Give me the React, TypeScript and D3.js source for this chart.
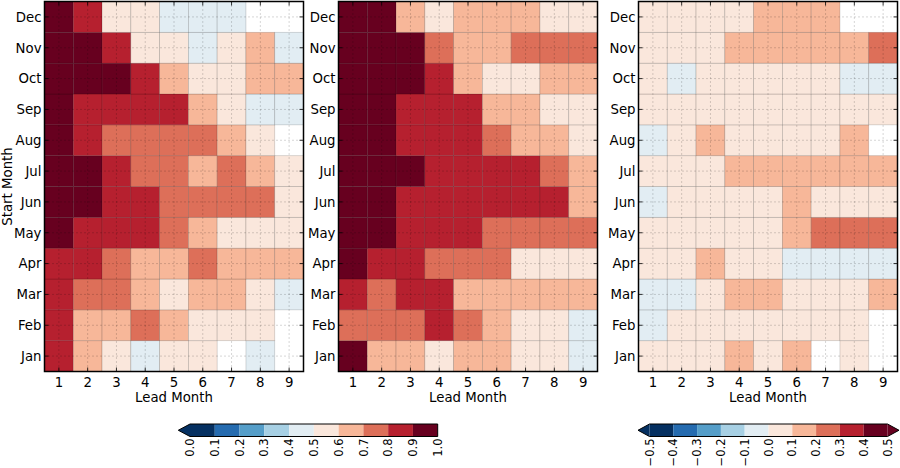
import React from "react";
import * as d3 from "d3";

const months = ["Jan", "Feb", "Mar", "Apr", "May", "Jun", "Jul", "Aug", "Sep", "Oct", "Nov", "Dec"];
const leads = [1, 2, 3, 4, 5, 6, 7, 8, 9];

// Panel 1: skill (0..1), rows Jan..Dec, columns lead 1..9 (null = masked / white)
const skillA: (number | null)[][] = [
  [0.85, 0.65, 0.55, 0.45, 0.55, 0.55, null, 0.45, null],
  [0.85, 0.65, 0.65, 0.75, 0.65, 0.55, 0.55, 0.55, null],
  [0.85, 0.75, 0.75, 0.65, 0.55, 0.65, 0.65, 0.55, 0.45],
  [0.85, 0.85, 0.75, 0.65, 0.65, 0.75, 0.65, 0.65, 0.65],
  [0.95, 0.85, 0.85, 0.85, 0.75, 0.65, 0.55, 0.55, 0.55],
  [0.95, 0.95, 0.85, 0.85, 0.75, 0.75, 0.75, 0.75, 0.55],
  [0.95, 0.95, 0.85, 0.75, 0.75, 0.65, 0.75, 0.65, 0.55],
  [0.95, 0.85, 0.75, 0.75, 0.75, 0.75, 0.65, 0.55, null],
  [0.95, 0.85, 0.85, 0.85, 0.85, 0.65, 0.55, 0.45, 0.45],
  [0.95, 0.95, 0.95, 0.85, 0.65, 0.55, 0.55, 0.65, 0.65],
  [0.95, 0.95, 0.85, 0.55, 0.55, 0.45, 0.55, 0.65, 0.45],
  [0.95, 0.85, 0.55, 0.55, 0.45, 0.45, 0.45, null, null],
];

// Panel 2: skill (0..1)
const skillB: (number | null)[][] = [
  [0.95, 0.65, 0.65, 0.55, 0.65, 0.65, 0.55, 0.55, 0.45],
  [0.75, 0.75, 0.75, 0.85, 0.75, 0.65, 0.55, 0.55, 0.45],
  [0.85, 0.75, 0.85, 0.85, 0.65, 0.65, 0.65, 0.65, 0.65],
  [0.95, 0.85, 0.85, 0.75, 0.75, 0.75, 0.55, 0.55, 0.55],
  [0.95, 0.95, 0.85, 0.85, 0.85, 0.75, 0.75, 0.75, 0.75],
  [0.95, 0.95, 0.85, 0.85, 0.85, 0.85, 0.85, 0.85, 0.65],
  [0.95, 0.95, 0.95, 0.85, 0.85, 0.85, 0.85, 0.75, 0.65],
  [0.95, 0.95, 0.85, 0.85, 0.85, 0.75, 0.65, 0.65, 0.55],
  [0.95, 0.95, 0.85, 0.85, 0.85, 0.65, 0.65, 0.55, 0.55],
  [0.95, 0.95, 0.95, 0.85, 0.65, 0.55, 0.55, 0.65, 0.65],
  [0.95, 0.95, 0.95, 0.75, 0.65, 0.65, 0.75, 0.75, 0.75],
  [0.95, 0.95, 0.65, 0.55, 0.65, 0.65, 0.65, 0.55, 0.55],
];

// Panel 3: difference (-0.5..0.5)
const skillDiff: (number | null)[][] = [
  [0.05, 0.05, 0.05, 0.15, 0.05, 0.15, null, 0.05, null],
  [-0.05, 0.05, 0.05, 0.05, 0.05, 0.05, 0.05, 0.05, null],
  [-0.05, -0.05, 0.05, 0.15, 0.15, 0.05, 0.05, 0.05, 0.15],
  [0.05, 0.05, 0.15, 0.05, 0.05, -0.05, -0.05, -0.05, -0.05],
  [0.05, 0.05, 0.05, 0.05, 0.05, 0.15, 0.25, 0.25, 0.25],
  [-0.05, 0.05, 0.05, 0.05, 0.05, 0.15, 0.05, 0.05, 0.05],
  [0.05, 0.05, 0.05, 0.15, 0.15, 0.15, 0.15, 0.15, 0.15],
  [-0.05, 0.05, 0.15, 0.05, 0.05, 0.05, 0.05, 0.15, null],
  [0.05, 0.05, 0.05, 0.05, 0.05, 0.05, 0.05, 0.05, 0.05],
  [0.05, -0.05, 0.05, 0.05, 0.05, 0.05, 0.05, -0.05, -0.05],
  [0.05, 0.05, 0.05, 0.15, 0.15, 0.15, 0.15, 0.15, 0.25],
  [0.05, 0.05, 0.05, 0.05, 0.15, 0.15, 0.15, null, null],
];

const levelsSkill = [0, 0.1, 0.2, 0.3, 0.4, 0.5, 0.6, 0.7, 0.8, 0.9, 1.0];
const levelsDiff = [-0.5, -0.4, -0.3, -0.2, -0.1, 0.0, 0.1, 0.2, 0.3, 0.4, 0.5];

const rdbuR = ["#053061", "#2166ac", "#4393c3", "#92c5de", "#d1e5f0", "#f7f7f7", "#fddbc7", "#f4a582", "#d6604d", "#b2182b", "#67001f"];
const interp = d3.piecewise(d3.interpolateRgb, rdbuR);
const binColors = d3.range(10).map((k) => d3.color(interp(k / 9))!.formatHex());

const FONT = "DejaVu Sans, sans-serif";
const TOP = 1.5;
const PH = 370;
const PW = 259;
const lefts = [44.5, 338.5, 638.5];

function Panel({ left, data, levels, showYLabel }: { left: number; data: (number | null)[][]; levels: number[]; showYLabel: boolean }) {
  const x = d3.scaleBand<number>().domain(leads).range([left, left + PW]);
  const y = d3.scaleBand<string>().domain(months).range([TOP + PH, TOP]);
  const color = d3.scaleThreshold<number, string>().domain(levels.slice(1, -1)).range(binColors);
  const bw = x.bandwidth();
  const bh = y.bandwidth();
  const cells: React.ReactNode[] = [];
  data.forEach((row, i) => {
    row.forEach((v, j) => {
      if (v === null) return;
      cells.push(
        <rect key={`c${i}-${j}`} x={x(leads[j])!} y={y(months[i])!} width={bw} height={bh}
          fill={color(v)} stroke="rgba(0,0,0,0.18)" strokeWidth={0.8} />
      );
    });
  });
  const bottom = TOP + PH;
  return (
    <g>
      {cells}
      {leads.map((l) => (
        <line key={`gx${l}`} x1={x(l)! + bw / 2} x2={x(l)! + bw / 2} y1={TOP} y2={bottom}
          stroke="#000" strokeOpacity={0.55} strokeWidth={0.6} strokeDasharray="1,3" />
      ))}
      {months.map((m) => (
        <line key={`gy${m}`} x1={left} x2={left + PW} y1={y(m)! + bh / 2} y2={y(m)! + bh / 2}
          stroke="#000" strokeOpacity={0.55} strokeWidth={0.6} strokeDasharray="1,3" />
      ))}
      {leads.map((l) => (
        <g key={`tx${l}`}>
          <line x1={x(l)! + bw / 2} x2={x(l)! + bw / 2} y1={bottom} y2={bottom - 4} stroke="#000" strokeWidth={0.8} />
          <line x1={x(l)! + bw / 2} x2={x(l)! + bw / 2} y1={TOP} y2={TOP + 4} stroke="#000" strokeWidth={0.8} />
          <text x={x(l)! + bw / 2} y={387} textAnchor="middle" fontSize={13.3} fontFamily={FONT}>{l}</text>
        </g>
      ))}
      {months.map((m) => (
        <g key={`ty${m}`}>
          <line x1={left} x2={left + 4} y1={y(m)! + bh / 2} y2={y(m)! + bh / 2} stroke="#000" strokeWidth={0.8} />
          <line x1={left + PW} x2={left + PW - 4} y1={y(m)! + bh / 2} y2={y(m)! + bh / 2} stroke="#000" strokeWidth={0.8} />
          <text x={left - 3} y={y(m)! + bh / 2} dy="0.36em" textAnchor="end" fontSize={13.3} fontFamily={FONT}>{m}</text>
        </g>
      ))}
      <rect x={left} y={TOP} width={PW} height={PH} fill="none" stroke="#000" strokeWidth={1.5} />
      <text x={left + PW / 2} y={401.5} textAnchor="middle" fontSize={13.3} fontFamily={FONT}>Lead Month</text>
      {showYLabel && (
        <text transform={`translate(11.5,${TOP + PH / 2}) rotate(-90)`} textAnchor="middle" fontSize={13.3} fontFamily={FONT}>Start Month</text>
      )}
    </g>
  );
}

function Colorbar({ x0, x1, levels, extendMin, extendMax, tri }: { x0: number; x1: number; levels: number[]; extendMin: boolean; extendMax: boolean; tri: number }) {
  const y0 = 424;
  const y1 = 436.5;
  const ym = (y0 + y1) / 2;
  const sx = d3.scaleLinear().domain([levels[0], levels[levels.length - 1]]).range([x0, x1]);
  const fmt = (v: number) => {
    const s = Math.abs(v).toFixed(1);
    return v < -1e-9 ? "\u2212" + s : s;
  };
  let outline = `M${x0},${y0} L${x1},${y0}`;
  outline += extendMax ? ` L${x1 + tri},${ym} L${x1},${y1}` : ` L${x1},${y1}`;
  outline += ` L${x0},${y1}`;
  outline += extendMin ? ` L${x0 - tri},${ym} Z` : " Z";
  return (
    <g>
      {levels.slice(0, -1).map((v, i) => (
        <rect key={i} x={sx(v)} y={y0} width={sx(levels[i + 1]) - sx(v)} height={y1 - y0} fill={binColors[i]} />
      ))}
      {extendMin && <path d={`M${x0},${y0} L${x0 - tri},${ym} L${x0},${y1} Z`} fill={binColors[0]} />}
      {extendMax && <path d={`M${x1},${y0} L${x1 + tri},${ym} L${x1},${y1} Z`} fill={binColors[9]} />}
      <path d={outline} fill="none" stroke="#000" strokeWidth={1} />
      {levels.map((v, i) => (
        <text key={`l${i}`} transform={`translate(${sx(v)},${y1 + 2}) rotate(-90)`} dy="0.36em" textAnchor="end"
          fontSize={11.5} fontFamily={FONT}>{fmt(v)}</text>
      ))}
    </g>
  );
}

export default function App() {
  return (
    <svg width={900} height={468} style={{ position: "absolute", left: 0, top: 0, background: "#fff" }}>
      <rect width={900} height={468} fill="#fff" />
      <Panel left={lefts[0]} data={skillA} levels={levelsSkill} showYLabel={true} />
      <Panel left={lefts[1]} data={skillB} levels={levelsSkill} showYLabel={false} />
      <Panel left={lefts[2]} data={skillDiff} levels={levelsDiff} showYLabel={false} />
      <Colorbar x0={190} x1={437.7} levels={levelsSkill} extendMin={true} extendMax={false} tri={11.7} />
      <Colorbar x0={649.5} x1={887.5} levels={levelsDiff} extendMin={true} extendMax={true} tri={11.5} />
    </svg>
  );
}
